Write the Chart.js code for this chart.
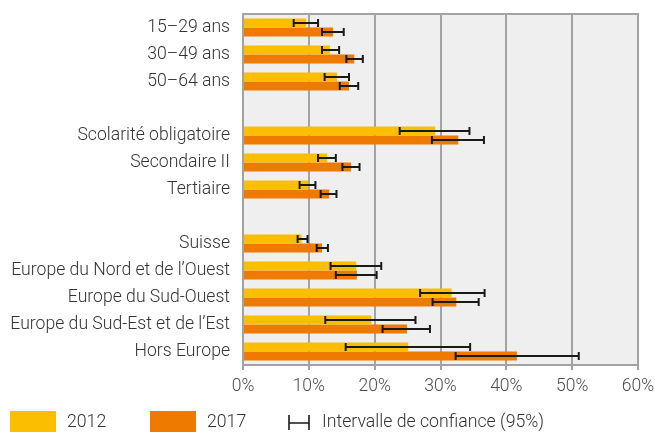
<!DOCTYPE html>
<html>
<head>
<meta charset="utf-8">
<script src="https://cdn.jsdelivr.net/npm/chart.js@4/dist/chart.umd.min.js"></script>
<style>
  html, body { margin: 0; padding: 0; background: #fff; }
  #wrap { width: 655px; height: 432px; }
</style>
</head>
<body>
<div id="wrap"><canvas id="chart" width="655" height="432"></canvas></div>
<script>
// data (blank labels = spacer rows)
var categories = ['15–29 ans', '30–49 ans', '50–64 ans', '',
	'Scolarité obligatoire', 'Secondaire II', 'Tertiaire', '',
	'Suisse', 'Europe du Nord et de l’Ouest', 'Europe du Sud-Ouest',
	'Europe du Sud-Est et de l’Est', 'Hors Europe'];

var values2012 = [9.6, 13.2, 14.3, null, 29.2, 12.8, 9.9, null, 8.9, 17.2, 31.7, 19.5, 25.1];
var values2017 = [13.7, 16.9, 16.1, null, 32.7, 16.4, 13.1, null, 12.0, 17.3, 32.4, 24.9, 41.6];

var low2012 = [7.7, 12.0, 12.4, null, 23.8, 11.4, 8.6, null, 8.3, 13.3, 26.9, 12.5, 15.6];
var high2012 = [11.4, 14.6, 16.1, null, 34.4, 14.1, 11.0, null, 9.8, 21.0, 36.7, 26.2, 34.5];
var low2017 = [12.0, 15.7, 14.7, null, 28.7, 15.1, 11.8, null, 11.2, 14.1, 28.8, 21.2, 32.3];
var high2017 = [15.3, 18.2, 17.5, null, 36.6, 17.7, 14.2, null, 12.9, 20.3, 35.8, 28.4, 51.0];

var xTicks = [0, 10, 20, 30, 40, 50, 60];
var seriesNames = ['2012', '2017'];
var ciLabel = 'Intervalle de confiance (95%)';

var colYellow = '#FBBE00';
var colOrange = '#EE7A00';
var colGrid = '#A3A3A3';
var fontFamily = 'Roboto, "Noto Sans", sans-serif';

var plotBg = {
	id: 'plotBg',
	beforeDraw: function ( chart ) {
		var a = chart.chartArea, ctx = chart.ctx;
		ctx.save();
		ctx.fillStyle = '#EFEFEF';
		ctx.fillRect( a.left, a.top, a.right - a.left, a.bottom - a.top );
		ctx.restore();
	},
	afterDraw: function ( chart ) {
		var a = chart.chartArea, ctx = chart.ctx;
		ctx.save();
		ctx.strokeStyle = colGrid;
		ctx.lineWidth = 2;
		ctx.beginPath();
		ctx.moveTo( a.left - 1, a.top );
		ctx.lineTo( a.right + 1, a.top );
		ctx.stroke();
		ctx.restore();
	}
};

var errorBars = {
	id: 'errorBars',
	afterDatasetsDraw: function ( chart ) {
		var ctx = chart.ctx, xs = chart.scales.x;
		var lows = [low2012, low2017], highs = [high2012, high2017];
		ctx.save();
		ctx.strokeStyle = '#1a1a1a';
		ctx.lineWidth = 2;
		chart.data.datasets.forEach( function ( ds, di ) {
			chart.getDatasetMeta( di ).data.forEach( function ( bar, i ) {
				if ( lows[di][i] == null ) return;
				var x1 = xs.getPixelForValue( lows[di][i] );
				var x2 = xs.getPixelForValue( highs[di][i] );
				var y = Math.round( bar.y );
				ctx.beginPath();
				ctx.moveTo( x1, y );
				ctx.lineTo( x2, y );
				ctx.moveTo( x1, y - 4 );
				ctx.lineTo( x1, y + 4 );
				ctx.moveTo( x2, y - 4 );
				ctx.lineTo( x2, y + 4 );
				ctx.stroke();
			} );
		} );
		ctx.restore();
	}
};

var bottomLegend = {
	id: 'bottomLegend',
	afterDraw: function ( chart ) {
		var ctx = chart.ctx;
		var boxY = 411, textY = 423;
		ctx.save();
		ctx.font = '300 17.7px ' + fontFamily;
		ctx.textBaseline = 'middle';
		ctx.fillStyle = colYellow;
		ctx.fillRect( 10, boxY, 46, 22 );
		ctx.fillStyle = colOrange;
		ctx.fillRect( 150, boxY, 46, 22 );
		ctx.fillStyle = '#333333';
		ctx.fillText( seriesNames[0], 67, textY );
		ctx.fillText( seriesNames[1], 207, textY );
		ctx.strokeStyle = '#1a1a1a';
		ctx.lineWidth = 1.6;
		ctx.beginPath();
		ctx.moveTo( 289, 415 ); ctx.lineTo( 289, 430 );
		ctx.moveTo( 309, 415 ); ctx.lineTo( 309, 430 );
		ctx.moveTo( 289, 423 ); ctx.lineTo( 309, 423 );
		ctx.stroke();
		ctx.fillText( ciLabel, 322, textY );
		ctx.restore();
	}
};

var ctx = document.getElementById( 'chart' ).getContext( '2d' );
var myChart = new Chart( ctx, {
	type: 'bar',
	data: {
		labels: categories,
		datasets: [
			{ label: seriesNames[0], data: values2012, backgroundColor: colYellow, categoryPercentage: 0.667, barPercentage: 1 },
			{ label: seriesNames[1], data: values2017, backgroundColor: colOrange, categoryPercentage: 0.667, barPercentage: 1 }
		]
	},
	options: {
		indexAxis: 'y',
		responsive: false,
		animation: false,
		devicePixelRatio: 1,
		layout: { padding: { top: 14, right: 17, left: 0, bottom: 0 } },
		plugins: {
			legend: { display: false },
			tooltip: { enabled: false }
		},
		scales: {
			x: {
				min: 0,
				max: 60,
				afterBuildTicks: function ( scale ) {
					scale.ticks = xTicks.map( function ( v ) { return { value: v }; } );
				},
				afterFit: function ( scale ) {
					scale.height = 67;
					scale.paddingLeft = 0;
					scale.paddingRight = 0;
				},
				grid: { color: colGrid, lineWidth: 2, drawTicks: true, tickLength: 5, tickColor: colGrid },
				border: { display: true, color: colGrid, width: 2 },
				ticks: {
					padding: 6,
					color: '#4d4d4d',
					font: { family: fontFamily, size: 17.5, weight: '300' },
					maxRotation: 0,
					callback: function ( v ) { return v + '%'; }
				}
			},
			y: {
				afterFit: function ( scale ) {
					scale.width = 243;
					scale.paddingTop = 0;
					scale.paddingBottom = 0;
				},
				grid: { display: false, drawTicks: false },
				border: { display: true, color: colGrid, width: 2 },
				ticks: {
					padding: 13,
					color: '#333333',
					font: { family: fontFamily, size: 17.6, weight: '300' },
					autoSkip: false
				}
			}
		}
	},
	plugins: [plotBg, errorBars, bottomLegend]
} );
</script>
</body>
</html>
